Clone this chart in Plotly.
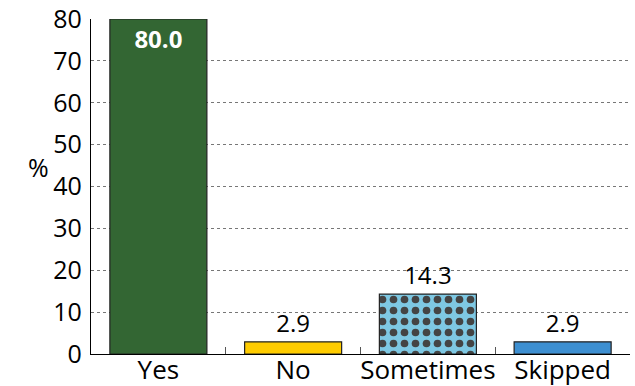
import plotly.graph_objects as go

# Survey responses (percent)
categories = ["Yes", "No", "Sometimes", "Skipped"]
values = [80.0, 2.9, 14.3, 2.9]
colors = ["#336633", "#ffcc00", "#7ec8e3", "#3d8fd1"]
y_ticks = [0, 10, 20, 30, 40, 50, 60, 70, 80]

label_text = [f"{v:.1f}" for v in values]
# The tall bar carries its label inside in bold white; the rest sit on top
text_pos = ["inside" if v > 50 else "outside" for v in values]
text_fonts_color = ["white" if v > 50 else "black" for v in values]
text_html = [f"<b>{t}</b>" if v > 50 else t for t, v in zip(label_text, values)]

fig = go.Figure(
    go.Bar(
        x=categories,
        y=values,
        width=0.72,
        text=text_html,
        textposition=text_pos,
        insidetextanchor="end",
        textfont=dict(family="Open Sans", size=24, color=text_fonts_color),
        cliponaxis=False,
        marker=dict(
            color=colors,
            line=dict(color="#222222", width=1.2),
            pattern=dict(
                shape=["", "", ".", ""],
                fgcolor="black",
                fgopacity=1,
                bgcolor=colors,
                size=11,
                solidity=0.38,
                fillmode="overlay",
            ),
        ),
    )
)

fig.update_layout(
    width=635,
    height=386,
    margin=dict(l=91, r=5, t=19, b=32),
    paper_bgcolor="white",
    plot_bgcolor="white",
    showlegend=False,
    font=dict(family="Open Sans", size=24, color="black"),
)

fig.update_xaxes(
    showline=True,
    linecolor="black",
    linewidth=1.2,
    ticks="inside",
    tickson="boundaries",
    ticklen=7,
    tickcolor="#555555",
    tickangle=0,
    tickfont=dict(family="Open Sans", size=26),
    ticklabelstandoff=-7,
    automargin=False,
    showgrid=False,
)

fig.update_yaxes(
    range=[0, 80],
    tickvals=y_ticks,
    showline=True,
    linecolor="black",
    linewidth=1.2,
    ticks="",
    ticklen=0,
    tickfont=dict(family="Open Sans", size=25),
    ticklabelstandoff=3,
    automargin=False,
    showgrid=True,
    gridcolor="#777777",
    griddash="dot",
    gridwidth=1,
    zeroline=False,
)
fig.add_annotation(
    text="%",
    xref="paper",
    yref="paper",
    x=-0.098,
    y=0.558,
    showarrow=False,
    xanchor="center",
    yanchor="middle",
    font=dict(family="Open Sans", size=25),
)

fig.write_html("out.html")
